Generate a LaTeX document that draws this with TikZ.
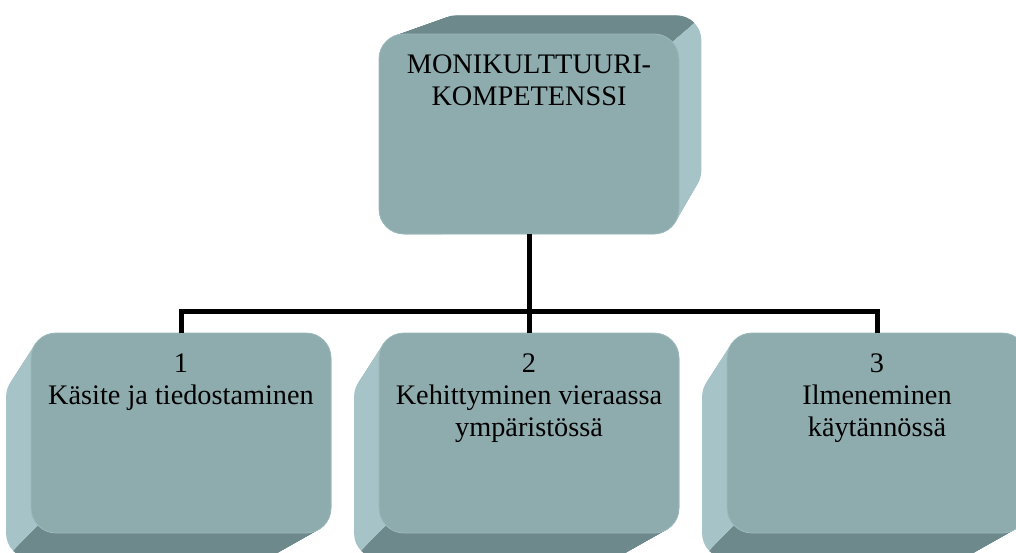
\documentclass[tikz,border=0pt]{standalone}
\usepackage{fontspec}
\setmainfont{Liberation Serif}
\newfontfamily\blockfont{Liberation Serif}
\definecolor{faceC}{HTML}{8EABAD}
\definecolor{faceEdge}{HTML}{9CB9BB}
\definecolor{darkC}{HTML}{6E898B}
\definecolor{lightC}{HTML}{A6C4C7}
\tikzset{
  frontface/.style={fill=faceC, draw=faceEdge, line width=0.8pt, rounded corners=25pt,
    minimum width=300pt, minimum height=200pt, inner sep=0pt, outer sep=0pt},
  link/.style={line width=5pt, black, line join=miter},
  % body of a block seen in perspective: the front face is swept toward
  % the vanishing point #1 down to scale #2; the part of the body inside
  % the wedge #1--#3--#4 is the shaded face
  pics/block3d/.style n args={4}{code={
    \foreach \i in {0,...,30}{
      \pgfmathsetmacro\sf{1-(1-#2)*\i/30}
      \begin{scope}[scale around={\sf:(#1)}]
        \fill[lightC, rounded corners=25pt] (-150,-100) rectangle (150,100);
      \end{scope}
    }
    \begin{scope}
      \clip (#1) -- (#3) -- (#4) -- cycle;
      \foreach \i in {0,...,30}{
        \pgfmathsetmacro\sf{1-(1-#2)*\i/30}
        \begin{scope}[scale around={\sf:(#1)}]
          \fill[darkC, rounded corners=25pt] (-150,-100) rectangle (150,100);
        \end{scope}
      }
    \end{scope}
  }}
}
\newcommand{\boxtext}[1]{\parbox[t][200pt][t]{300pt}{\centering
  \blockfont\fontsize{28.3pt}{32pt}\selectfont\rule{0pt}{39pt}#1}}
\begin{document}
\begin{tikzpicture}[x=1pt, y=-1pt]
  \clip (0,0) rectangle (1016,552);
  \fill[white] (0,0) rectangle (1016,552);

  % top block, receding to the upper right
  \pic at (529,134) {block3d={374,-286}{0.9}{-1722,458}{-551.28,487.28}};
  \node[frontface] (top) at (529,134) {\boxtext{MONIKULTTUURI-\\KOMPETENSSI}};

  % lower blocks, receding to the lower left
  \pic at (181,433) {block3d={-525,481}{0.9335}{2175,-1043}{1004.28,-1072.28}};
  \node[frontface] (b1) at (181,433) {\boxtext{1\\Käsite ja tiedostaminen}};
  \pic at (529,433) {block3d={-525,481}{0.9335}{2175,-1043}{1004.28,-1072.28}};
  \node[frontface] (b2) at (529,433) {\boxtext{2\\Kehittyminen vieraassa\\ympäristössä}};
  \pic at (877,433) {block3d={-525,481}{0.9335}{2175,-1043}{1004.28,-1072.28}};
  \node[frontface] (b3) at (877,433) {\boxtext{3\\Ilmeneminen\\käytännössä}};

  % connectors
  \coordinate (bus) at (529,311);
  \draw[link] (top.south) -- (top.south |- bus);
  \draw[link] (b1.north) |- (bus) -| (b3.north);
  \draw[link] (b2.north) -- (b2.north |- bus);
\end{tikzpicture}
\end{document}
